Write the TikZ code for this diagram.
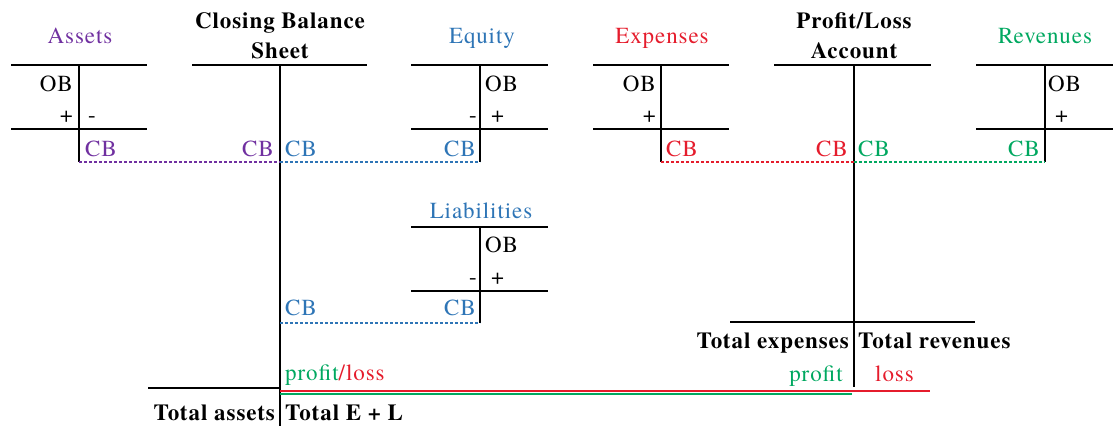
\documentclass[tikz,border=0pt]{standalone}
\usepackage{fontspec}
\setmainfont{texgyretermes}[Extension=.otf,UprightFont=*-regular,BoldFont=*-bold,LetterSpace=4]
\definecolor{cpurple}{RGB}{112,48,160}
\definecolor{cblue}{RGB}{46,117,182}
\definecolor{cred}{RGB}{229,28,44}
\definecolor{cgreen}{RGB}{0,168,96}
\begin{document}
\begin{tikzpicture}[x=1pt,y=-1pt,
  every node/.style={inner sep=0pt,font=\fontsize{23}{27}\selectfont},
  tline/.style={line width=1.5pt,black},
  dotline/.style={line width=1.5pt,dash pattern=on 3pt off 2pt},
  sumline/.style={line width=1.6pt},
  title/.style={anchor=base},
  btitle/.style={anchor=base,font=\fontsize{23}{27}\selectfont\bfseries},
  lt/.style={anchor=base east},
  rt/.style={anchor=base west},
  blt/.style={anchor=base east,font=\fontsize{23}{27}\selectfont\bfseries},
  brt/.style={anchor=base west,font=\fontsize{23}{27}\selectfont\bfseries}]
\useasboundingbox (0,0) rectangle (1113,426);
% ---------- coordinates ----------
% Assets
\coordinate (aL) at (11,65); \coordinate (aR) at (147,65); \coordinate (aT) at (79,65);
\coordinate (aL2) at (11,129); \coordinate (aR2) at (147,129); \coordinate (aB) at (79,162);
% Closing balance sheet
\coordinate (bL) at (192,65); \coordinate (bR) at (367,65); \coordinate (bT) at (280,65);
\coordinate (bB) at (280,426); \coordinate (b1) at (280,162); \coordinate (b2) at (280,323);
\coordinate (bL3) at (148,388); \coordinate (b3) at (280,388);
\coordinate (b4) at (280,391); \coordinate (b5) at (280,394);
% Equity
\coordinate (eL) at (411,65); \coordinate (eR) at (548,65); \coordinate (eT) at (480,65);
\coordinate (eL2) at (411,129); \coordinate (eR2) at (548,129); \coordinate (eB) at (480,162);
% Liabilities
\coordinate (lL) at (411,227); \coordinate (lR) at (548,227); \coordinate (lT) at (480,227);
\coordinate (lL2) at (411,291); \coordinate (lR2) at (548,291); \coordinate (lB) at (480,323);
% Expenses
\coordinate (xL) at (593,65); \coordinate (xR) at (729,65); \coordinate (xT) at (661,65);
\coordinate (xL2) at (593,129); \coordinate (xR2) at (729,129); \coordinate (xB) at (661,162);
% Profit/Loss
\coordinate (pL) at (774,65); \coordinate (pR) at (931,65); \coordinate (pT) at (854,65);
\coordinate (pB) at (854,387); \coordinate (p1) at (854,162);
\coordinate (pL2) at (730,322); \coordinate (pR2) at (975,322);
\coordinate (p4) at (930,391); \coordinate (p5) at (852,394);
% Revenues
\coordinate (rL) at (976,65); \coordinate (rR) at (1113,65); \coordinate (rT) at (1045,65);
\coordinate (rL2) at (976,129); \coordinate (rR2) at (1113,129); \coordinate (rB) at (1045,162);

% ---------- T-accounts ----------
\draw[tline] (aL) -- (aR) (aL2) -- (aR2) (aT) -- (aB);
\draw[tline] (bL) -- (bR) (bT) -- (bB) (bL3) -- (b3);
\draw[tline] (eL) -- (eR) (eL2) -- (eR2) (eT) -- (eB);
\draw[tline] (lL) -- (lR) (lL2) -- (lR2) (lT) -- (lB);
\draw[tline] (xL) -- (xR) (xL2) -- (xR2) (xT) -- (xB);
\draw[tline] (pL) -- (pR) (pT) -- (pB) (pL2) -- (pR2);
\draw[tline] (rL) -- (rR) (rL2) -- (rR2) (rT) -- (rB);

% ---------- connectors ----------
\draw[dotline,cpurple] (aB) -- (b1);
\draw[dotline,cblue] (b1) -- (eB);
\draw[dotline,cblue] (b2) -- (lB);
\draw[dotline,cred] (xB) -- (p1);
\draw[dotline,cgreen] (p1) -- (rB);
\draw[sumline,cred] (b4) -- (p4);
\draw[sumline,cgreen] (b5) -- (p5);

% ---------- titles ----------
\node[title,cpurple] (tA) at (80,43) {Assets};
\node[btitle] (tB1) at (280,28) {Closing Balance};
\node[btitle] (tB2) at (280,58) {Sheet};
\node[title,cblue] (tE) at (482,43) {Equity};
\node[title,cred] (tX) at (662,43) {Expenses};
\node[btitle] (tP1) at (854,28) {Profit/Loss};
\node[btitle] (tP2) at (854,58) {Account};
\node[title,cgreen] (tR) at (1045,43) {Revenues};
\node[title,cblue] (tL) at (481,218) {Liabilities};

% ---------- Assets entries ----------
\node[lt] (aOB) at (73,91) {OB};
\node[lt] (aPl) at (73,122) {+};
\node[rt] (aMi) at (88,122) {-};
\node[rt,cpurple] (aCB) at (85,156) {CB};
% ---------- Closing balance sheet entries ----------
\node[lt,cpurple] (bCB1) at (274,156) {CB};
\node[rt,cblue] (bCB2) at (285,156) {CB};
\node[rt,cblue] (bCB3) at (285,315) {CB};
\node[rt] (bPL) at (285,380) {\textcolor{cgreen}{profit}\textcolor{cred}{/loss}};
\node[blt] (bTA) at (275,420) {Total assets};
\node[brt] (bTEL) at (285,420) {Total E + L};
% ---------- Equity entries ----------
\node[rt] (eOB) at (485,91) {OB};
\node[lt] (eMi) at (477,122) {-};
\node[rt] (ePl) at (491,122) {+};
\node[lt,cblue] (eCB) at (476,156) {CB};
% ---------- Liabilities entries ----------
\node[rt] (lOB) at (485,252) {OB};
\node[lt] (lMi) at (477,284) {-};
\node[rt] (lPl) at (491,284) {+};
\node[lt,cblue] (lCB) at (476,315) {CB};
% ---------- Expenses entries ----------
\node[lt] (xOB) at (656,91) {OB};
\node[lt] (xPl) at (656,122) {+};
\node[rt,cred] (xCB) at (666,156) {CB};
% ---------- Profit/Loss entries ----------
\node[lt,cred] (pCB1) at (848,156) {CB};
\node[rt,cgreen] (pCB2) at (858,156) {CB};
\node[blt] (pTE) at (849,348) {Total expenses};
\node[brt] (pTR) at (858,348) {Total revenues};
\node[lt,cgreen] (pPr) at (843,381) {profit};
\node[rt,cred] (pLo) at (875,381) {loss};
% ---------- Revenues entries ----------
\node[rt] (rOB) at (1048,91) {OB};
\node[rt] (rPl) at (1055,122) {+};
\node[lt,cgreen] (rCB) at (1040,156) {CB};
\end{tikzpicture}
\end{document}
